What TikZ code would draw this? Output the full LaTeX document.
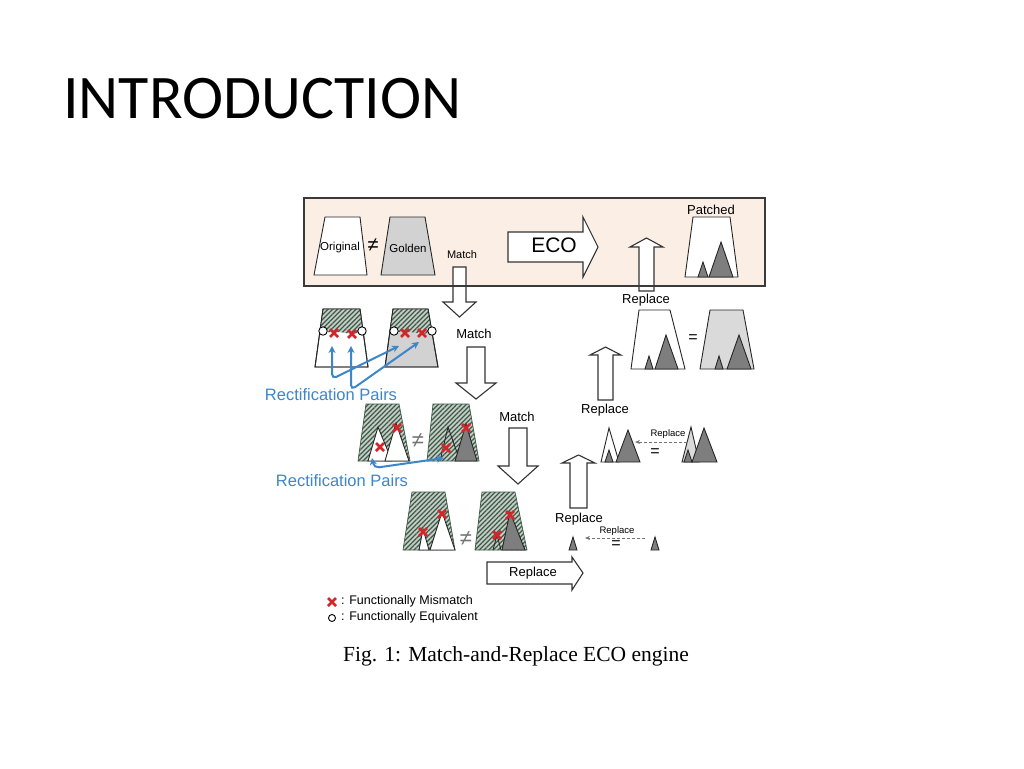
\documentclass[tikz,border=0pt]{standalone}
\usepackage{fontspec}
\setmainfont{Liberation Sans}
\newfontfamily\titlefont{Carlito}
\newfontfamily\capfont{Liberation Serif}
\usetikzlibrary{arrows.meta,patterns.meta}
\definecolor{boxfill}{HTML}{FBEEE5}
\definecolor{boxline}{HTML}{3A3A3A}
\definecolor{goldgray}{HTML}{D2D2D2}
\definecolor{lightgray2}{HTML}{DADADA}
\definecolor{darktri}{HTML}{7E7E7E}
\definecolor{hatchbg}{HTML}{C4CEC6}
\definecolor{hatchc}{HTML}{3E5A47}
\definecolor{mmred}{HTML}{D3262B}
\definecolor{pairblue}{HTML}{3D86CA}
\tikzset{
  trap/.style={draw=black!85, line width=0.9pt, line join=miter},
  htrap/.style={draw=hatchc, line width=0.7pt, line join=miter},
  hatch/.style={fill=hatchbg, postaction={pattern={Lines[angle=45,distance=3.3pt,line width=1.25pt]}, pattern color=hatchc}},
  tri/.style={draw=black!85, line width=0.9pt, line join=miter},
  blk/.style={draw=black!80, fill=white, line width=1.1pt, line join=miter},
  lbl/.style={inner sep=0pt, font=\fontsize{13}{15}\selectfont},
  smlbl/.style={inner sep=0pt, font=\fontsize{9.5}{11}\selectfont},
  neqlbl/.style={inner sep=0pt, font=\fontsize{22}{24}\selectfont},
  pairlbl/.style={inner sep=0pt, text=pairblue, font=\fontsize{16.5}{19}\selectfont},
  pairarrow/.style={draw=pairblue, line width=2pt, rounded corners=5pt, {Stealth[length=7pt,width=7pt]}-{Stealth[length=7pt,width=7pt]}},
  dasharrow/.style={draw=black!55, densely dashed, line width=0.8pt, -{Stealth[length=5pt,width=4pt]}},
  eqv/.style={draw=black, fill=white, line width=0.9pt},
  redx/.pic={\draw[draw=mmred, line width=2.8pt] (-4,-4) -- (4,4) (-4,4) -- (4,-4);}
}
\begin{document}
\begin{tikzpicture}[x=1pt,y=-1pt]
\useasboundingbox (0,0) rectangle (1024,768);
\fill[white] (0,0) rectangle (1024,768);

% title
\node[anchor=base west, inner sep=0pt, font=\titlefont\fontsize{62}{70}\selectfont] (title) at (63,118) {INTRODUCTION};

% ---------- top box ----------
\fill[boxfill] (304,198) rectangle (765,286);
\draw[trap, fill=white] (325,217) -- (360,217) -- (367,275) -- (314,275) -- cycle;
\node[inner sep=0pt, font=\fontsize{11.5}{13}\selectfont] (orig) at (340,248) {Original};
\node[neqlbl, font=\fontsize{20}{22}\selectfont] (neqa) at (373,245) {≠};
\draw[trap, fill=goldgray] (390,217) -- (425,217) -- (435,275) -- (381,275) -- cycle;
\node[inner sep=0pt, font=\fontsize{11.5}{13}\selectfont] (golden) at (408,248) {Golden};
\node[inner sep=0pt, font=\fontsize{11}{13}\selectfont] (matcha) at (462,255) {Match};
% match arrow 1
\draw[blk] (453,267) -- (466,267) -- (466,302) -- (476,302) -- (459.5,317) -- (443,302) -- (453,302) -- cycle;
% ECO arrow
\draw[blk] (508,232) -- (583,232) -- (583,217) -- (598,247) -- (583,277) -- (583,262) -- (508,262) -- cycle;
\node[inner sep=0pt, font=\fontsize{21}{24}\selectfont] (eco) at (554,245) {ECO};
% replace up arrow (top)
\draw[blk] (639,291) -- (639,247) -- (630,247) -- (646.5,238) -- (663,247) -- (654,247) -- (654,291) -- cycle;
% patched
\node[inner sep=0pt, font=\fontsize{13}{15}\selectfont] (patched) at (711,210) {Patched};
\draw[trap, fill=white] (693,217) -- (730,217) -- (738,277) -- (685,277) -- cycle;
\draw[tri, fill=darktri] (698,277) -- (703,262) -- (708,277) -- cycle;
\draw[tri, fill=darktri] (709,277) -- (721,242) -- (733,277) -- cycle;
\draw[line width=2.2pt, draw=boxline] (304,198) rectangle (765,286);
\node[lbl] (repa) at (646,300) {Replace};

% ---------- row 2 left ----------
\draw[trap, fill=white] (323,309) -- (360,309) -- (368,367) -- (315,367) -- cycle;
\begin{scope}
  \clip (323,309) -- (360,309) -- (368,367) -- (315,367) -- cycle;
  \fill[hatch] (300,300) -- (380,300) -- (380,329) .. controls (366,328) and (358,336) .. (346,333) .. controls (338,331) and (330,334) .. (300,329) -- cycle;
\end{scope}
\draw[trap] (323,309) -- (360,309) -- (368,367) -- (315,367) -- cycle;
\draw[trap, fill=goldgray] (393,309) -- (428,309) -- (438,367) -- (385,367) -- cycle;
\begin{scope}
  \clip (393,309) -- (428,309) -- (438,367) -- (385,367) -- cycle;
  \fill[hatch] (380,300) -- (450,300) -- (450,329) .. controls (438,328) and (430,336) .. (418,333) .. controls (410,331) and (402,334) .. (380,329) -- cycle;
\end{scope}
\draw[trap] (393,309) -- (428,309) -- (438,367) -- (385,367) -- cycle;
\draw[eqv] (323,331) circle[radius=4.2pt];
\draw[eqv] (362,331) circle[radius=4.2pt];
\draw[eqv] (394,331) circle[radius=4.2pt];
\draw[eqv] (432,331) circle[radius=4.2pt];
\pic at (334,333) {redx};
\pic at (352,334) {redx};
\pic at (405,333) {redx};
\pic at (422,333) {redx};
\coordinate (pa1) at (332,346);
\coordinate (pa2) at (399,346);
\coordinate (pb1) at (351,346);
\coordinate (pb2) at (419,342);
\draw[pairarrow] (pa1) -- (332,379) -- (pa2);
\draw[pairarrow] (pb1) -- (351,390) -- (pb2);
\node[pairlbl] (pairs1) at (331,395) {Rectification Pairs};
\node[lbl] (matchb) at (474,334) {Match};
\draw[blk] (467,347) -- (485,347) -- (485,383) -- (496,383) -- (476,399) -- (456,383) -- (467,383) -- cycle;

% ---------- row 2 right ----------
\draw[trap, fill=white] (639,310) -- (670,310) -- (685,369) -- (631,369) -- cycle;
\draw[tri, fill=darktri] (645,369) -- (649,356) -- (653,369) -- cycle;
\draw[tri, fill=darktri] (655,369) -- (666,335) -- (678,369) -- cycle;
\node[inner sep=0pt, font=\fontsize{16}{18}\selectfont] (eqa) at (693,339) {=};
\draw[trap, fill=lightgray2] (710,310) -- (743,310) -- (754,369) -- (700,369) -- cycle;
\draw[tri, fill=darktri] (715,369) -- (719,356) -- (723,369) -- cycle;
\draw[tri, fill=darktri] (727,369) -- (739,335) -- (751,369) -- cycle;
\draw[blk] (598,400) -- (598,355) -- (590,355) -- (605.5,347) -- (621,355) -- (613,355) -- (613,400) -- cycle;
\node[lbl] (repb) at (605,410) {Replace};

% ---------- row 3 left ----------
\draw[htrap, hatch] (366,404) -- (399,404) -- (410,461) -- (358,461) -- cycle;
\draw[tri, fill=white] (368,461) -- (378,427) -- (392,461) -- cycle;
\draw[tri, fill=white] (385,461) -- (396,423) -- (409,461) -- cycle;
\pic at (380,447) {redx};
\pic at (397,428) {redx};
\node[neqlbl, text=black!55] (neqb) at (418,441) {≠};
\draw[htrap, hatch] (433,404) -- (469,404) -- (479,461) -- (427,461) -- cycle;
\draw[tri] (440,461) -- (448,427) -- (460,461);
\draw[tri, fill=darktri] (455,461) -- (466,424) -- (477,461) -- cycle;
\pic at (446,448) {redx};
\pic at (466,428) {redx};
\coordinate (pc1) at (372,458);
\coordinate (pc2) at (444,458);
\draw[pairarrow] (pc1) -- (374,468) -- (pc2);
\node[pairlbl] (pairs2) at (342,481) {Rectification Pairs};
\node[lbl] (matchc) at (517,417) {Match};
\draw[blk] (509,428) -- (527,428) -- (527,466) -- (538,466) -- (518,484) -- (498,466) -- (509,466) -- cycle;

% ---------- row 3 right ----------
\draw[tri, fill=white] (601,462) -- (609,428) -- (619,462) -- cycle;
\draw[tri, fill=darktri] (605,462) -- (609,450) -- (613,462) -- cycle;
\draw[tri, fill=darktri] (616,462) -- (628,430) -- (640,462) -- cycle;
\node[inner sep=0pt, font=\fontsize{16}{18}\selectfont] (eqb) at (655,453) {=};
\draw[tri, fill=lightgray2] (682,462) -- (691,427) -- (699,462) -- cycle;
\draw[tri, fill=darktri] (684,462) -- (688,450) -- (692,462) -- cycle;
\draw[tri, fill=darktri] (692,462) -- (704,428) -- (717,462) -- cycle;
\coordinate (da1) at (687,442);
\coordinate (da2) at (635,442);
\draw[dasharrow] (da1) -- (da2);
\node[smlbl] (repsa) at (668,434) {Replace};
\draw[blk] (570,508) -- (570,463) -- (562,463) -- (578.5,455) -- (595,463) -- (587,463) -- (587,508) -- cycle;
\node[lbl] (repc) at (579,519) {Replace};

% ---------- row 4 ----------
\draw[htrap, hatch] (412,492) -- (445,492) -- (455,550) -- (403,550) -- cycle;
\draw[tri, fill=white] (419,550) -- (423,529) -- (429,550) -- cycle;
\draw[tri, fill=white] (430,550) -- (442,512) -- (455,550) -- cycle;
\pic at (423,532) {redx};
\pic at (442,514) {redx};
\node[neqlbl, text=black!55] (neqc) at (466,539) {≠};
\draw[htrap, hatch] (482,492) -- (515,492) -- (527,550) -- (475,550) -- cycle;
\draw[tri] (493,550) -- (497,535) -- (501,550);
\draw[tri, fill=darktri] (502,550) -- (510,512) -- (525,550) -- cycle;
\pic at (497,535) {redx};
\pic at (510,515) {redx};
\draw[tri, fill=darktri] (569,550) -- (573,537) -- (577,550) -- cycle;
\draw[tri, fill=darktri] (651,550) -- (655,537) -- (659,550) -- cycle;
\coordinate (db1) at (645,538);
\coordinate (db2) at (585,538);
\draw[dasharrow] (db1) -- (db2);
\node[smlbl] (repsb) at (617,531) {Replace};
\node[inner sep=0pt, font=\fontsize{16}{18}\selectfont] (eqc) at (616,545) {=};
\draw[blk] (487,562) -- (572,562) -- (572,557) -- (583,573) -- (572,590) -- (572,584) -- (487,584) -- cycle;
\node[lbl] (repd) at (533,573) {Replace};

% ---------- legend ----------
\pic at (332,602) {redx};
\node[anchor=west, inner sep=0pt, font=\fontsize{12.5}{14}\selectfont] (lega) at (341,601) {: Functionally Mismatch};
\draw[eqv] (332,618) circle[radius=3.5pt];
\node[anchor=west, inner sep=0pt, font=\fontsize{12.5}{14}\selectfont] (legb) at (341,617) {: Functionally Equivalent};
\node[anchor=base, inner sep=0pt, font=\capfont\fontsize{21.5}{24}\selectfont] (caption) at (516,661) {Fig. 1: Match-and-Replace ECO engine};
\end{tikzpicture}
\end{document}
